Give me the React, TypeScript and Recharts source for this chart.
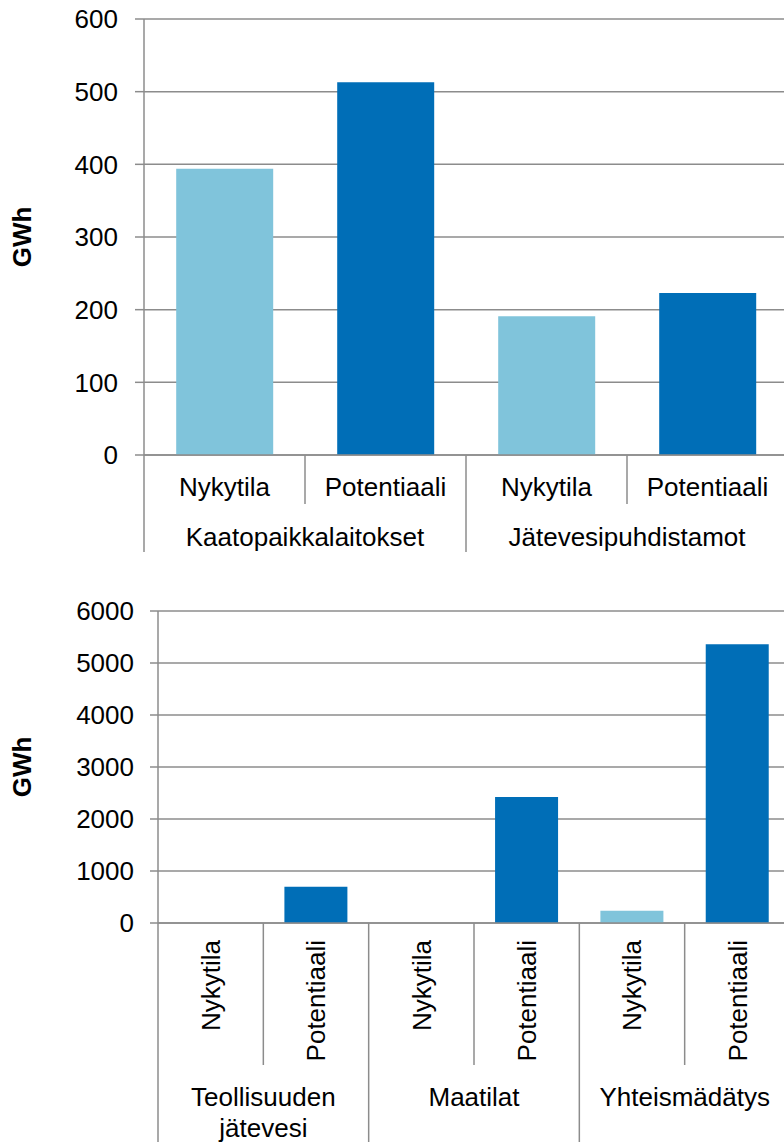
import { BarChart, Bar, XAxis, YAxis, CartesianGrid, Cell } from 'recharts'

const subLabels = ['Nykytila', 'Potentiaali']

const topGroups = [['Kaatopaikkalaitokset'], ['Jätevesipuhdistamot']]
const topValues = [394, 513, 191, 223]
const topTicks = [0, 100, 200, 300, 400, 500, 600]

const bottomGroups = [['Teollisuuden', 'jätevesi'], ['Maatilat'], ['Yhteismädätys']]
const bottomValues = [0, 698, 0, 2425, 237, 5360]
const bottomTicks = [0, 1000, 2000, 3000, 4000, 5000, 6000]

const barColors = ['#80c4db', '#006eb7']
const GRID = '#8c8c8c'
const FONT = '"Liberation Sans", Arial, sans-serif'
const FS = 26

type Row = { key: string; sub: string; si: number; gi: number; group: string[]; value: number }

function buildRows(groups: string[][], values: number[]): Row[] {
  return groups.flatMap((g, gi) =>
    subLabels.map((s, si) => ({ key: `${gi}-${si}`, sub: s, si, gi, group: g, value: values[gi * 2 + si] })),
  )
}

const topRows = buildRows(topGroups, topValues)
const bottomRows = buildRows(bottomGroups, bottomValues)

function makeTick(rows: Row[], rotated: boolean) {
  return function Tick(props: any) {
    const { x, y, payload, index } = props
    const half = payload?.offset ?? 0
    const row = rows[index]
    if (!row) return null
    const last = index === rows.length - 1
    const innerLen = rotated ? 142 : 49
    const outerLen = rotated ? 240 : 97
    const groupY = rotated ? 174 : 82
    return (
      <g fontFamily={FONT} fontSize={FS} fill="#000">
        {rotated ? (
          <text
            x={x}
            y={y + 17}
            dy="0.355em"
            textAnchor="end"
            transform={`rotate(-90 ${x} ${y + 17})`}
          >
            {row.sub}
          </text>
        ) : (
          <text x={x} y={y + 32} dy="0.355em" textAnchor="middle">
            {row.sub}
          </text>
        )}
        <line
          x1={x - half}
          x2={x - half}
          y1={y}
          y2={y + (row.si === 0 ? outerLen : innerLen)}
          stroke={GRID}
          strokeWidth={1.5}
        />
        {last ? (
          <line x1={x + half} x2={x + half} y1={y} y2={y + outerLen} stroke={GRID} strokeWidth={1.5} />
        ) : null}
        {row.si === 0
          ? row.group.map((line, li) => (
              <text key={li} x={x + half} y={y + groupY + li * 31} dy="0.355em" textAnchor="middle">
                {line}
              </text>
            ))
          : null}
      </g>
    )
  }
}

const TopTick = makeTick(topRows, false)
const BottomTick = makeTick(bottomRows, true)

function axisTitle(props: any) {
  const vb = props.viewBox || {}
  const cx = 22
  const cy = vb.y + vb.height / 2
  return (
    <text
      x={cx}
      y={cy}
      dy="0.355em"
      textAnchor="middle"
      transform={`rotate(-90 ${cx} ${cy})`}
      fontFamily={FONT}
      fontSize={FS}
      fontWeight="bold"
      fill="#000"
    >
      GWh
    </text>
  )
}

export default function App() {
  const tickStyle = { fill: '#000', fontSize: FS, fontFamily: FONT }
  const line = { stroke: GRID, strokeWidth: 1.5 }
  return (
    <div style={{ position: 'absolute', left: 0, top: 0, width: 784, height: 1142, overflow: 'hidden', background: '#fff' }}>
      <BarChart
        width={788}
        height={560}
        data={topRows}
        margin={{ top: 19, right: 0, bottom: 0, left: 0 }}
        barCategoryGap="20%"
      >
        <CartesianGrid vertical={false} stroke={GRID} strokeWidth={1.5} />
        <XAxis
          dataKey="key"
          type="category"
          interval={0}
          height={105}
          tickSize={0}
          tickMargin={0}
          tickLine={false}
          axisLine={line}
          tick={<TopTick />}
        />
        <YAxis
          type="number"
          domain={[0, 600]}
          ticks={topTicks}
          width={144}
          tickSize={9}
          tickMargin={17}
          tickLine={line}
          axisLine={line}
          tick={tickStyle}
          label={axisTitle}
        />
        <Bar dataKey="value" isAnimationActive={false}>
          {topRows.map((r) => (
            <Cell key={r.key} fill={barColors[r.si]} />
          ))}
        </Bar>
      </BarChart>
      <BarChart
        width={790}
        height={582}
        data={bottomRows}
        margin={{ top: 51, right: 0, bottom: 0, left: 0 }}
        barCategoryGap="20%"
      >
        <CartesianGrid vertical={false} stroke={GRID} strokeWidth={1.5} />
        <XAxis
          dataKey="key"
          type="category"
          interval={0}
          height={219}
          tickSize={0}
          tickMargin={0}
          tickLine={false}
          axisLine={line}
          tick={<BottomTick />}
        />
        <YAxis
          type="number"
          domain={[0, 6000]}
          ticks={bottomTicks}
          width={158}
          tickSize={8}
          tickMargin={16}
          tickLine={line}
          axisLine={line}
          tick={tickStyle}
          label={axisTitle}
        />
        <Bar dataKey="value" isAnimationActive={false}>
          {bottomRows.map((r) => (
            <Cell key={r.key} fill={barColors[r.si]} />
          ))}
        </Bar>
      </BarChart>
    </div>
  )
}
